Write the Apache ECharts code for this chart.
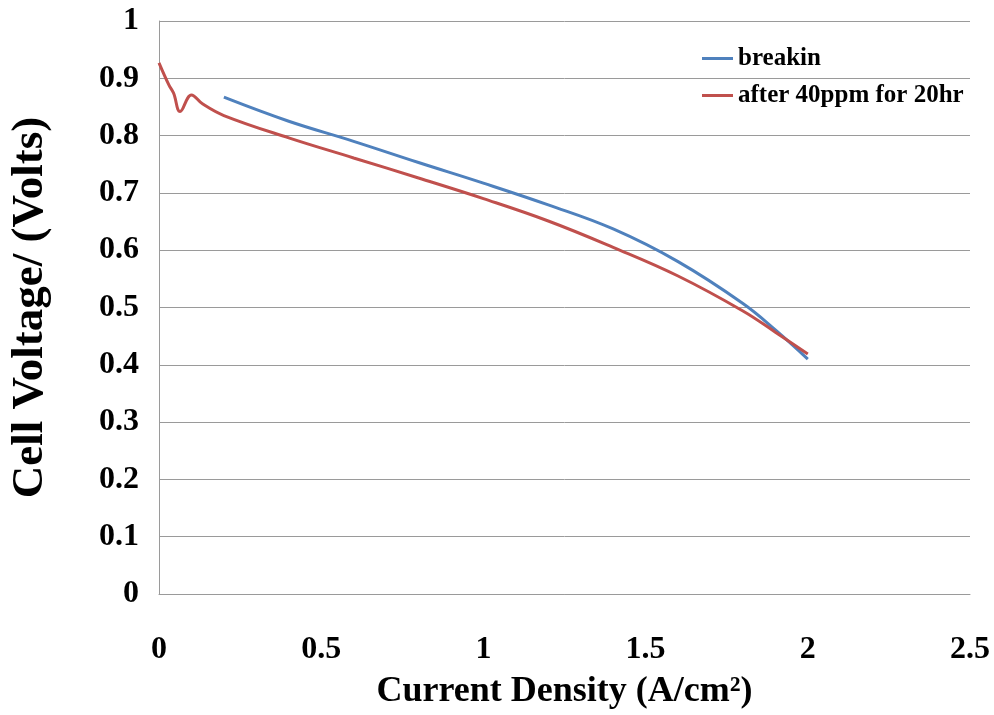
<!DOCTYPE html>
<html>
<head>
<meta charset="utf-8">
<script src="https://cdn.jsdelivr.net/npm/echarts@6/dist/echarts.min.js"></script>
<style>
    html, body {margin: 0; padding: 0; background: #fff;}
    #chart {width: 994px; height: 715px;}
</style>
</head>
<body>
<div id="chart"></div>
<script>
// current density (A/cm2) and cell voltage (V)
var breakinX = [0.2, 0.4, 0.6, 0.8, 1.0, 1.2, 1.4, 1.6, 1.8, 1.9, 2.0];
var breakinY = [0.867, 0.825, 0.790, 0.753, 0.717, 0.679, 0.637, 0.580, 0.507, 0.461, 0.410];

var afterX = [0, 0.03, 0.045, 0.065, 0.1, 0.135, 0.2, 0.4, 0.6, 0.8, 1.0, 1.2, 1.4, 1.6, 1.8, 1.9, 2.0];
var afterY = [0.927, 0.889, 0.874, 0.842, 0.871, 0.855, 0.835, 0.796, 0.761, 0.726, 0.690, 0.651, 0.605, 0.555, 0.494, 0.457, 0.419];

var seriesNames = ["breakin", "after 40ppm for 20hr"];

function pairs(xs, ys) {
    var out = [];
    for (var i = 0; i < xs.length; i++) {
        out.push([xs[i], ys[i]]);
    }
    return out;
}

var font = "'Liberation Serif', 'Times New Roman', serif";

var chart = echarts.init(document.getElementById('chart'));
chart.setOption({
    animation: false,
    color: ["#4F81BD", "#C0504D"],
    grid: {left: 157, right: 24, top: 21, bottom: 121},
    legend: {
        orient: 'vertical',
        left: 697,
        top: 41,
        icon: 'rect',
        itemWidth: 31,
        itemHeight: 3,
        itemGap: 12,
        textStyle: {fontFamily: font, fontWeight: 'bold', fontSize: 25, color: '#000'},
        data: seriesNames
    },
    xAxis: {
        type: 'value',
        min: 0,
        max: 2.5,
        interval: 0.5,
        name: 'Current Density (A/cm²)',
        nameLocation: 'middle',
        nameGap: 80,
        nameTextStyle: {fontFamily: font, fontWeight: 'bold', fontSize: 36, color: '#000'},
        axisLine: {show: true, lineStyle: {color: '#9a9a9a', width: 1}},
        axisTick: {show: false},
        splitLine: {show: false},
        axisLabel: {margin: 40, fontFamily: font, fontWeight: 'bold', fontSize: 32, color: '#000'}
    },
    yAxis: {
        type: 'value',
        min: 0,
        max: 1,
        interval: 0.1,
        name: 'Cell Voltage/ (Volts)',
        nameLocation: 'middle',
        nameGap: 106,
        nameTextStyle: {fontFamily: font, fontWeight: 'bold', fontSize: 45, color: '#000'},
        axisLine: {show: true, lineStyle: {color: '#9a9a9a', width: 1}},
        axisTick: {show: false},
        splitLine: {show: true, lineStyle: {color: '#9a9a9a', width: 1}},
        axisLabel: {
            margin: 20,
            fontFamily: font, fontWeight: 'bold', fontSize: 32, color: '#000',
            formatter: function (v) { return String(Math.round(v * 10) / 10); }
        }
    },
    series: [
        {
            name: seriesNames[0],
            type: 'line',
            smooth: 0.4,
            symbol: 'none',
            lineStyle: {width: 3},
            data: pairs(breakinX, breakinY)
        },
        {
            name: seriesNames[1],
            type: 'line',
            smooth: 0.4,
            symbol: 'none',
            lineStyle: {width: 3},
            data: pairs(afterX, afterY)
        }
    ]
});
</script>
</body>
</html>
